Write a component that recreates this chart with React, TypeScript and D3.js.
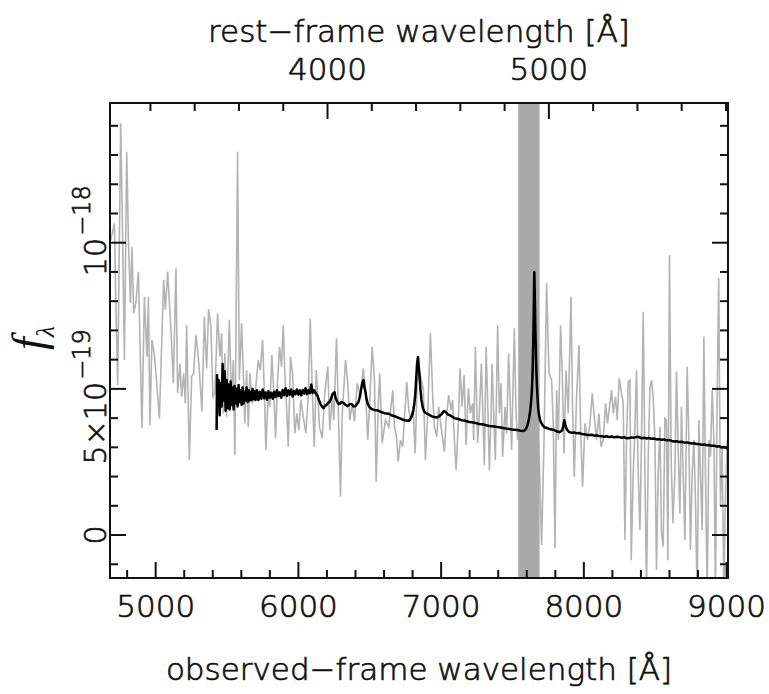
import { useEffect } from "react";
import * as d3 from "d3";

const W = 769;
const H = 694;
const margin = { left: 110, right: 41, top: 103, bottom: 116 };

// low S/N spectrum: observed wavelength [Å], flux [1e-19]
const noisyWave = [
  4685, 4711, 4722, 4734, 4755, 4769, 4781, 4797, 4809, 4823, 4834, 4846, 4862, 4879, 4904, 4921,
  4939, 4949, 4960, 4974, 4991, 5002, 5026, 5056, 5068, 5084, 5107, 5124, 5142, 5154, 5170, 5182,
  5196, 5208, 5217, 5236, 5252, 5266, 5282, 5294, 5306, 5324, 5341, 5357, 5371, 5387, 5401, 5415,
  5434, 5450, 5462, 5474, 5485, 5497, 5516, 5532, 5544, 5555, 5574, 5586, 5602, 5614, 5625, 5637,
  5649, 5660, 5677, 5695, 5719, 5733, 5749, 5761, 5772, 5789, 5800, 5814, 5826, 5840, 5854, 5868,
  5882, 5894, 5905, 5917, 5929, 5945, 5959, 5975, 5989, 6003, 6017, 6034, 6052, 6069, 6083, 6097,
  6111, 6125, 6148, 6167, 6185, 6206, 6220, 6237, 6248, 6267, 6279, 6295, 6307, 6330, 6346, 6360,
  6377, 6393, 6412, 6435, 6454, 6470, 6486, 6498, 6517, 6533, 6545, 6559, 6570, 6587, 6610, 6633,
  6661, 6673, 6687, 6699, 6715, 6731, 6745, 6759, 6773, 6790, 6804, 6818, 6832, 6848, 6876, 6890,
  6906, 6925, 6941, 6953, 6969, 6983, 7000, 7023, 7035, 7053, 7070, 7081, 7093, 7105, 7119, 7133,
  7147, 7161, 7175, 7191, 7205, 7221, 7228, 7240, 7256, 7268, 7282, 7291, 7303, 7315, 7326, 7338,
  7350, 7357, 7368, 7380, 7396, 7408, 7420, 7431, 7448, 7459, 7473, 7485, 7494, 7513, 7525, 7536,
  7576, 7618, 7660, 7688, 7704, 7721, 7739, 7756, 7774, 7786, 7798, 7809, 7821, 7837, 7849, 7861,
  7875, 7891, 7910, 7921, 7933, 7949, 7966, 7977, 7991, 8008, 8026, 8043, 8059, 8073, 8089, 8106,
  8120, 8136, 8152, 8166, 8183, 8194, 8206, 8222, 8234, 8248, 8260, 8276, 8288, 8299, 8311, 8323,
  8332, 8346, 8355, 8369, 8381, 8393, 8404, 8416, 8428, 8439, 8451, 8463, 8474, 8486, 8498, 8509,
  8521, 8533, 8544, 8556, 8568, 8579, 8589, 8600, 8612, 8624, 8638, 8649, 8661, 8673, 8684, 8696,
  8708, 8724, 8736, 8747, 8759, 8771, 8782, 8794, 8806, 8817, 8829, 8841, 8852, 8864, 8876, 8887,
  8899, 8911, 8922, 8934, 8945, 8957, 8969, 8981, 8992, 9004,
];
const noisyFlux = [
  10.09, 10.66, 7.7, 5.13, 14.08, 9.98, 5.99, 13.11, 10.09, 7.93, 9.86, 7.58, 7.98, 9.01, 3.65, 8.15,
  6.1, 8.15, 3.76, 6.67, 6.16, 5.53, 3.99, 8.72, 7.7, 9.01, 7.01, 5.19, 9.12, 4.85, 5.87, 4.73,
  5.53, 4.51, 7.18, 2.57, 5.42, 5.53, 6.84, 6.33, 5.64, 4.22, 7.47, 5.7, 7.72, 7.13, 4.73, 4.85,
  7.58, 6.1, 6.9, 4.16, 6.22, 4.05, 7.36, 4.51, 5.99, 2.74, 13.11, 5.3, 7.24, 5.53, 3.82, 5.64,
  3.7, 5.53, 4.51, 4.73, 5.99, 5.64, 6.67, 4.96, 2.91, 4.85, 4.39, 6.16, 5.07, 3.31, 5.3, 6.44,
  5.76, 7.18, 5.53, 4.39, 3.02, 6.1, 5.53, 3.48, 4.16, 3.59, 4.62, 4.05, 3.48, 4.73, 7.41, 4.96,
  3.02, 5.64, 3.7, 3.31, 4.85, 5.76, 3.59, 4.73, 3.93, 6.73, 4.39, 1.31, 4.16, 5.99, 5.19, 3.93,
  4.51, 3.88, 5.19, 4.73, 5.7, 4.96, 3.25, 4.39, 6.44, 5.3, 1.82, 4.39, 5.53, 3.14, 3.93, 3.7,
  4.96, 3.7, 3.36, 2.51, 3.25, 3.02, 4.16, 5.24, 4.28, 3.93, 4.39, 2.79, 5.19, 5.64, 4.96, 2.57,
  4.16, 6.9, 4.73, 3.7, 3.36, 4.39, 3.7, 2.85, 3.93, 4.79, 4.28, 4.62, 3.25, 2.22, 3.7, 5.7,
  4.39, 5.47, 3.08, 5.02, 4.16, 4.51, 3.25, 6.44, 3.14, 4.16, 5.87, 4.39, 2.39, 6.44, 4.62, 2.22,
  4.16, 5.87, 4.16, 2.57, 7.18, 4.16, 5.19, 2.68, 4.39, 3.48, 6.22, 4.39, 2.91, 7.07, 4.16, 3.25,
  4.62, 3.59, 4.96, 2.57, -0.34, 3.25, 8.61, 5.53, 5.3, 3.7, -0.45, 4.96, 3.25, 7.18, 5.53, 2.79,
  5.64, 4.16, 8.15, 4.39, 1.99, 4.73, 6.5, 3.7, 1.65, 3.82, 3.25, 3.82, 4.85, 4.05, 3.25, 4.16,
  3.02, 3.25, 4.51, 3.82, 4.51, 4.96, 4.16, 4.73, 3.93, 5.36, 4.96, 4.51, -0.17, 3.25, 5.24, 5.3,
  -0.86, 2.11, 3.25, 5.64, 2.11, 0.17, 3.25, 7.64, 2.11, -1.88, 2.68, 5.02, 5.3, 4.73, 3.25, -1.2,
  2.11, 3.7, 0.06, -0.4, 3.99, 3.93, -0.86, 9.58, 2.57, 0.4, 2.11, 5.59, 2.91, 0.74, 4.39, 2.11,
  -0.17, 5.76, 3.25, -0.51, 2.11, 3.25, 1.2, -2.22, 3.93, 2.11, 0.17, 6.78, 2.11, -2.05, 3.25, 2.68,
  4.96, 3.25, -1.88, 4.73, 8.79, 0.97, 3.02, -1.88, 1.2, 3.25,
];

// high S/N spectrum
const cleanWave = [
  5427, 5430, 5434, 5441, 5448, 5455, 5462, 5469, 5476, 5483, 5490, 5497, 5504, 5511, 5518, 5525,
  5532, 5539, 5546, 5553, 5560, 5567, 5574, 5581, 5588, 5595, 5602, 5609, 5616, 5623, 5630, 5637,
  5644, 5651, 5658, 5665, 5672, 5679, 5686, 5693, 5700, 5710, 5720, 5730, 5740, 5750, 5760, 5770,
  5780, 5790, 5800, 5810, 5820, 5830, 5840, 5850, 5860, 5870, 5880, 5890, 5900, 5910, 5920, 5930,
  5940, 5950, 5960, 5970, 5980, 5990, 6000, 6010, 6020, 6030, 6040, 6050, 6060, 6070, 6080, 6090,
  6100, 6110, 6122, 6134, 6145, 6155, 6165, 6176, 6186, 6197, 6208, 6218, 6229, 6239, 6253, 6260,
  6267, 6278, 6288, 6300, 6316, 6330, 6344, 6358, 6372, 6386, 6400, 6410, 6421, 6428, 6435, 6442,
  6449, 6456, 6463, 6470, 6477, 6484, 6495, 6505, 6519, 6533, 6550, 6568, 6585, 6603, 6620, 6638,
  6655, 6673, 6690, 6708, 6725, 6743, 6757, 6771, 6782, 6792, 6800, 6806, 6813, 6820, 6826, 6831,
  6835, 6838, 6842, 6848, 6855, 6862, 6872, 6883, 6900, 6918, 6935, 6953, 6970, 6988, 7000, 7009,
  7016, 7023, 7033, 7044, 7060, 7077, 7093, 7110, 7126, 7142, 7160, 7180, 7198, 7215, 7233, 7250,
  7268, 7285, 7303, 7320, 7338, 7355, 7373, 7390, 7408, 7425, 7443, 7460, 7478, 7495, 7515, 7534,
  7555, 7576, 7590, 7597, 7605, 7611, 7618, 7625, 7631, 7636, 7640, 7643, 7647, 7650, 7653, 7657,
  7660, 7664, 7667, 7671, 7676, 7681, 7688, 7695, 7708, 7723, 7740, 7758, 7775, 7793, 7810, 7828,
  7840, 7849, 7856, 7863, 7870, 7877, 7888, 7898, 7915, 7933, 7950, 7968, 7985, 8003, 8020, 8038,
  8055, 8073, 8090, 8108, 8125, 8143, 8160, 8178, 8195, 8213, 8230, 8248, 8265, 8283, 8300, 8318,
  8335, 8353, 8370, 8388, 8405, 8423, 8440, 8458, 8475, 8493, 8510, 8528, 8545, 8563, 8580, 8598,
  8615, 8633, 8650, 8668, 8685, 8703, 8720, 8738, 8755, 8773, 8790, 8808, 8825, 8843, 8860, 8878,
  8895, 8913, 8930, 8948, 8965, 8983, 9004,
];
const cleanFlux = [
  3.59, 5.47, 4.5, 5.3, 4.1, 5.2, 4.4, 5.85, 4.6, 5.6, 4.25, 5.3, 4.35, 5.15, 4.3, 5.25,
  4.45, 5.05, 4.3, 5.1, 4.5, 5.0, 4.4, 5.13, 4.55, 4.95, 4.45, 5.05, 4.5, 4.9, 4.6, 5.05,
  4.55, 4.95, 4.6, 4.9, 4.62, 5.0, 4.65, 4.92, 4.62, 4.95, 4.62, 4.9, 4.66, 4.98, 4.68, 4.88,
  4.63, 4.92, 4.7, 4.87, 4.66, 4.9, 4.72, 4.95, 4.75, 4.88, 4.7, 4.96, 4.78, 5.02, 4.76, 4.95,
  4.8, 4.98, 4.74, 4.92, 4.82, 4.98, 4.8, 4.95, 4.78, 4.96, 4.84, 5.02, 4.82, 4.95, 4.85, 5.15,
  4.86, 4.95, 4.85, 4.76, 4.6, 4.48, 4.4, 4.34, 4.42, 4.45, 4.52, 4.55, 4.66, 4.82, 4.89, 4.7,
  4.62, 4.5, 4.48, 4.55, 4.52, 4.45, 4.41, 4.47, 4.48, 4.4, 4.41, 4.48, 4.55, 4.68, 4.86, 5.05,
  5.23, 5.3, 5.05, 4.89, 4.66, 4.52, 4.4, 4.34, 4.3, 4.28, 4.27, 4.24, 4.2, 4.17, 4.16, 4.14,
  4.09, 4.07, 4.03, 4.0, 3.96, 3.93, 3.92, 3.9, 3.95, 4.04, 4.15, 4.28, 4.52, 4.89, 5.4, 5.82,
  6.0, 6.09, 5.85, 5.47, 5.0, 4.62, 4.35, 4.21, 4.15, 4.11, 4.06, 4.04, 4.02, 4.07, 4.12, 4.17,
  4.22, 4.24, 4.2, 4.14, 4.1, 4.05, 4.0, 3.98, 3.96, 3.93, 3.92, 3.89, 3.87, 3.86, 3.84, 3.82,
  3.8, 3.79, 3.77, 3.75, 3.73, 3.72, 3.71, 3.7, 3.69, 3.67, 3.65, 3.64, 3.63, 3.61, 3.6, 3.59,
  3.57, 3.56, 3.6, 3.66, 3.75, 3.87, 4.05, 4.28, 4.6, 4.96, 5.45, 5.99, 7.0, 8.04, 9.0, 8.04,
  7.1, 6.33, 5.65, 5.13, 4.65, 4.28, 4.05, 3.9, 3.78, 3.69, 3.66, 3.63, 3.61, 3.59, 3.55, 3.52,
  3.55, 3.59, 3.75, 3.93, 3.78, 3.66, 3.57, 3.52, 3.5, 3.51, 3.48, 3.49, 3.46, 3.45, 3.43, 3.42,
  3.43, 3.4, 3.41, 3.39, 3.38, 3.36, 3.38, 3.35, 3.37, 3.34, 3.36, 3.35, 3.33, 3.35, 3.31, 3.32,
  3.34, 3.33, 3.36, 3.35, 3.31, 3.33, 3.3, 3.32, 3.29, 3.3, 3.27, 3.28, 3.26, 3.27, 3.24, 3.25,
  3.22, 3.2, 3.21, 3.18, 3.19, 3.16, 3.17, 3.15, 3.13, 3.14, 3.11, 3.11, 3.09, 3.1, 3.07, 3.08,
  3.05, 3.06, 3.03, 3.04, 3.0, 3.01, 2.97,
];

const bandRange = [7540, 7690];
const obsTicks = [5000, 6000, 7000, 8000, 9000];
const restTicks = [4000, 5000];
const redshift = 0.551;

export default function App() {
  useEffect(() => {
    document.body.style.margin = "0";
  }, []);

  const x = d3.scaleLinear().domain([4680, 9010]).range([margin.left, W - margin.right]);
  const y = d3.scaleLinear().domain([-1.47, 14.78]).range([H - margin.bottom, margin.top]);
  const xRest = d3
    .scaleLinear()
    .domain(x.domain().map((d) => d / (1 + redshift)))
    .range(x.range());

  const [x0, x1] = x.range();
  const [y0, y1] = y.range();

  const noisy = noisyWave.map((w, i) => [w, noisyFlux[i]] as [number, number]);
  const clean = cleanWave.map((w, i) => [w, cleanFlux[i]] as [number, number]);
  const line = d3
    .line<[number, number]>()
    .x((d) => x(d[0]))
    .y((d) => y(d[1]));

  const obsMinor = d3.range(4800, 9001, 200);
  const restMinor = d3.range(3200, 5801, 200);
  const yMinor = d3.range(-1, 15, 1);
  const font = "'DejaVu Sans', Verdana, sans-serif";
  const ink = "#111";
  const textStyle = { fill: ink, stroke: ink, strokeWidth: 0.7 };

  return (
    <svg width={W} height={H} style={{ display: "block", background: "#fff" }}>
      <defs>
        <clipPath id="plot">
          <rect x={x0} y={y1} width={x1 - x0} height={y0 - y1} />
        </clipPath>
      </defs>

      <g clipPath="url(#plot)">
        <path d={line(noisy) || ""} fill="none" stroke="#b3b3b3" strokeWidth={1.6} />
        <rect
          x={x(bandRange[0])}
          y={y1}
          width={x(bandRange[1]) - x(bandRange[0])}
          height={y0 - y1}
          fill="#a9a9a9"
        />
        <path d={line(clean) || ""} fill="none" stroke="#000" strokeWidth={2.5} strokeLinejoin="round" />
      </g>

      {/* ticks */}
      <g stroke={ink} strokeWidth={2}>
        {obsMinor.map((t) => {
          const len = t % 1000 === 0 ? 16 : 8;
          return <line key={"b" + t} x1={x(t)} x2={x(t)} y1={y0} y2={y0 - len} />;
        })}
        {restMinor.map((t) => {
          const len = t % 1000 === 0 ? 16 : 8;
          return <line key={"t" + t} x1={xRest(t)} x2={xRest(t)} y1={y1} y2={y1 + len} />;
        })}
        {yMinor.map((t) => {
          const len = t % 5 === 0 ? 16 : 8;
          return (
            <g key={"y" + t}>
              <line x1={x0} x2={x0 + len} y1={y(t)} y2={y(t)} />
              <line x1={x1} x2={x1 - len} y1={y(t)} y2={y(t)} />
            </g>
          );
        })}
      </g>
      <rect x={x0} y={y1} width={x1 - x0} height={y0 - y1} fill="none" stroke={ink} strokeWidth={2} />

      {/* x axes */}
      <g fontFamily={font} fontWeight={200} fontSize={31} style={textStyle} textAnchor="middle">
        {obsTicks.map((t) => (
          <text key={t} x={x(t)} y={617}>
            {t}
          </text>
        ))}
        <text x={(x0 + x1) / 2} y={680}>
          observed−frame wavelength [Å]
        </text>
        {restTicks.map((t) => (
          <text key={t} x={xRest(t)} y={80}>
            {t}
          </text>
        ))}
        <text x={(x0 + x1) / 2} y={42}>
          rest−frame wavelength [Å]
        </text>
      </g>

      {/* y axis */}
      <g fontFamily={font} fontWeight={200} fontSize={30} style={textStyle} textAnchor="middle">
        <text transform={`translate(106,${y(0)}) rotate(-90)`}>0</text>
        <text transform={`translate(106,${y(5) + 8}) rotate(-90)`}>
          5×10
          <tspan fontSize={24} dx={2} dy={-16}>
            −19
          </tspan>
        </text>
        <text transform={`translate(106,${y(10) - 12}) rotate(-90)`}>
          10
          <tspan fontSize={24} dx={2} dy={-16}>
            −18
          </tspan>
        </text>
      </g>
      <text
        transform={`translate(44,338) rotate(-90)`}
        fontFamily="'Liberation Serif', serif"
        fontStyle="italic"
        fontSize={46}
        fill={ink}
        textAnchor="middle"
      >
        f
        <tspan fontSize={26} dy={10}>
          λ
        </tspan>
      </text>
    </svg>
  );
}
